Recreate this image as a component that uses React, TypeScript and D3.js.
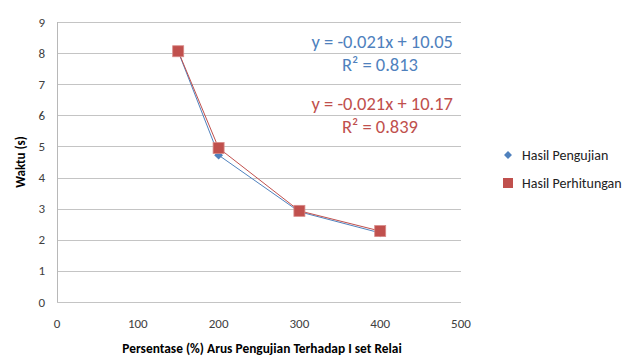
import React, { useRef, useEffect } from 'react';
import * as d3 from 'd3';

// Data
const xValues = [150, 200, 300, 400];
const pengujian = [8.05, 4.72, 2.9, 2.22];
const perhitungan = [8.06, 4.95, 2.93, 2.28];
const yTicks = [0, 1, 2, 3, 4, 5, 6, 7, 8, 9];
const xTicks = [0, 100, 200, 300, 400, 500];
const seriesNames = ['Hasil Pengujian', 'Hasil Perhitungan'];
const trendLabels = [
  ['y = -0.021x + 10.05', 'R² = 0.813'],
  ['y = -0.021x + 10.17', 'R² = 0.839'],
];

const BLUE = '#4F81BD';
const RED = '#C0504D';
const FONT = 'Calibri, Carlito, Lato, "Liberation Sans", Arial, sans-serif';

export default function App() {
  const svgRef = useRef<SVGSVGElement>(null);
  const width = 633;
  const height = 359;

  useEffect(() => {
    const svg = d3.select(svgRef.current);
    svg.selectAll('*').remove();

    const margin = { top: 22, right: 172, bottom: 57, left: 57 };
    const innerWidth = width - margin.left - margin.right;
    const innerHeight = height - margin.top - margin.bottom;

    const g = svg.append('g')
      .attr('transform', `translate(${margin.left},${margin.top})`);

    const xScale = d3.scaleLinear().domain([0, 500]).range([0, innerWidth]);
    const yScale = d3.scaleLinear().domain([0, 9]).range([innerHeight, 0]);

    // Horizontal gridlines
    g.selectAll('.grid')
      .data(yTicks)
      .enter()
      .append('line')
      .attr('x1', 0)
      .attr('x2', innerWidth)
      .attr('y1', d => Math.round(yScale(d)) + 0.5)
      .attr('y2', d => Math.round(yScale(d)) + 0.5)
      .attr('stroke', '#c4c4c4')
      .attr('stroke-width', 1);

    // Left axis line
    g.append('line')
      .attr('x1', 0.5).attr('x2', 0.5)
      .attr('y1', 0).attr('y2', innerHeight)
      .attr('stroke', '#b8b8b8');

    // Y tick labels
    g.selectAll('.ytick')
      .data(yTicks)
      .enter()
      .append('text')
      .attr('x', -12)
      .attr('y', d => yScale(d))
      .attr('dy', '0.35em')
      .attr('text-anchor', 'end')
      .style('font-family', FONT)
      .style('font-size', '13px')
      .style('fill', '#404040')
      .text(d => d);

    // X tick labels
    g.selectAll('.xtick')
      .data(xTicks)
      .enter()
      .append('text')
      .attr('x', d => xScale(d))
      .attr('y', innerHeight + 26)
      .attr('text-anchor', 'middle')
      .style('font-family', FONT)
      .style('font-size', '13px')
      .style('fill', '#404040')
      .text(d => d);

    // Axis titles
    g.append('text')
      .attr('x', 262 - margin.left)
      .attr('y', innerHeight + 51)
      .attr('text-anchor', 'middle')
      .style('font-family', FONT)
      .style('font-size', '13.4px')
      .style('font-weight', 'bold')
      .style('fill', '#000')
      .text('Persentase (%) Arus Pengujian Terhadap I set Relai');

    g.append('text')
      .attr('transform', `translate(-32,${162 - margin.top}) rotate(-90)`)
      .attr('text-anchor', 'middle')
      .style('font-family', FONT)
      .style('font-size', '13px')
      .style('font-weight', 'bold')
      .style('fill', '#000')
      .text('Waktu (s)');

    const line = d3.line<number>()
      .x((_, i) => xScale(xValues[i]))
      .y(d => yScale(d));

    // Series lines
    g.append('path')
      .datum(pengujian)
      .attr('d', line)
      .attr('fill', 'none')
      .attr('stroke', BLUE)
      .attr('stroke-width', 1);

    g.append('path')
      .datum(perhitungan)
      .attr('d', line)
      .attr('fill', 'none')
      .attr('stroke', RED)
      .attr('stroke-width', 1);

    // Blue diamonds
    const diamond = d3.symbol().type(d3.symbolDiamond2).size(50);
    g.selectAll('.diamond')
      .data(pengujian)
      .enter()
      .append('path')
      .attr('d', diamond)
      .attr('transform', (d, i) => `translate(${xScale(xValues[i])},${yScale(d)})`)
      .attr('fill', BLUE);

    // Red squares
    const sq = 11;
    g.selectAll('.square')
      .data(perhitungan)
      .enter()
      .append('rect')
      .attr('x', (_, i) => xScale(xValues[i]) - sq / 2)
      .attr('y', d => yScale(d) - sq / 2)
      .attr('width', sq)
      .attr('height', sq)
      .attr('fill', RED)
      .attr('stroke', '#d88a88')
      .attr('stroke-width', 0.8);

    // Trendline equations
    const eq = svg.append('g')
      .style('font-family', FONT)
      .style('font-size', '18.5px')
      .attr('text-anchor', 'end');
    const eqColors = [BLUE, RED];
    const eqY = [[48, 71], [110, 133]];
    const eqX = [[453, 418], [453, 418]];
    trendLabels.forEach((lines, s) => {
      lines.forEach((t, j) => {
        eq.append('text')
          .attr('x', eqX[s][j])
          .attr('y', eqY[s][j])
          .style('fill', eqColors[s])
          .text(t);
      });
    });

    // Legend
    const legend = svg.append('g')
      .attr('transform', `translate(508,155)`);
    legend.append('path')
      .attr('d', d3.symbol().type(d3.symbolDiamond2).size(40))
      .attr('fill', BLUE);
    legend.append('rect')
      .attr('x', -5).attr('y', 23)
      .attr('width', 10).attr('height', 10)
      .attr('fill', RED);
    legend.selectAll('.legend-text')
      .data(seriesNames)
      .enter()
      .append('text')
      .attr('x', 14)
      .attr('y', (_, i) => i * 28)
      .attr('dy', '0.35em')
      .style('font-family', FONT)
      .style('font-size', '14px')
      .style('fill', '#222')
      .text(d => d);
  }, []);

  return (
    <svg
      ref={svgRef}
      width={width}
      height={height}
      style={{ position: 'absolute', left: 0, top: 0, background: '#fff' }}
    />
  );
}
